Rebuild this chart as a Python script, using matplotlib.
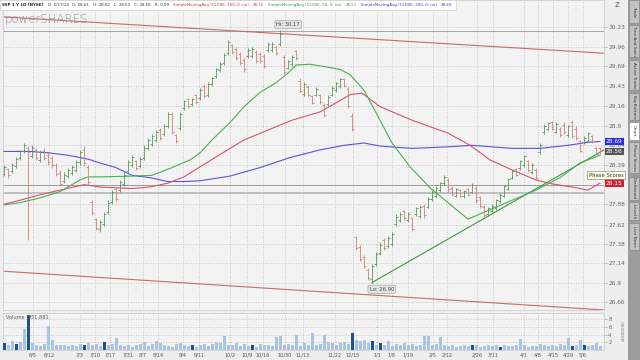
import numpy as np
import matplotlib.pyplot as plt
from matplotlib.patches import Rectangle
from matplotlib.ticker import NullLocator
from matplotlib.transforms import blended_transform_factory

W, H = 640, 360


def fx(px):
    return px / W


def fy(py):
    return 1 - py / H


# daily bars, one entry per session (index = bar number)
highs = [28.39, 28.35, 28.41, 28.49, 28.58, 28.67, 28.63, 28.64, 28.60, 28.58,
         28.60, 28.55, 28.50, 28.41, 28.32, 28.29, 28.35, 28.39, 28.45, 28.58,
         28.63, 28.39, 27.93, 27.71, 27.68, 27.78, 27.93, 28.06, 28.10, 28.19,
         28.29, 28.45, 28.52, 28.45, 28.49, 28.64, 28.73, 28.79, 28.84, 28.87,
         28.92, 29.08, 29.08, 28.79, 29.08, 29.24, 29.27, 29.27, 29.32, 29.40,
         29.44, 29.48, 29.55, 29.67, 29.75, 29.87, 30.05, 30.00, 29.96, 29.89,
         29.81, 29.94, 29.96, 29.92, 29.89, 29.86, 30.02, 30.02, 29.97, 30.17,
         29.85, 29.78, 29.85, 29.92, 29.54, 29.48, 29.44, 29.31, 29.41, 29.32,
         29.20, 29.31, 29.43, 29.48, 29.54, 29.54, 29.41, 29.06, 27.48, 27.37,
         27.24, 27.08, 27.13, 27.28, 27.40, 27.45, 27.48, 27.53, 27.75, 27.78,
         27.81, 27.78, 27.72, 27.85, 27.87, 27.88, 27.97, 28.06, 28.11, 28.17,
         28.25, 28.22, 28.11, 28.09, 28.08, 28.06, 28.09, 28.15, 28.11, 27.99,
         27.87, 27.85, 27.88, 27.95, 28.02, 28.13, 28.22, 28.32, 28.35, 28.45,
         28.52, 28.45, 28.41, 28.35, 28.67, 28.92, 28.95, 28.96, 28.95, 28.88,
         28.94, 28.91, 28.97, 28.89, 28.71, 28.76, 28.82, 28.78, 28.62, 28.62]
lows = [28.24, 28.22, 28.28, 28.35, 28.45, 28.54, 27.43, 28.47, 28.45, 28.42,
        28.45, 28.39, 28.35, 28.24, 28.11, 28.15, 28.22, 28.25, 28.29, 28.39,
        28.37, 28.13, 27.74, 27.55, 27.53, 27.60, 27.75, 27.88, 27.92, 28.04,
        28.11, 28.29, 28.36, 28.32, 28.35, 28.45, 28.58, 28.63, 28.68, 28.71,
        28.76, 28.87, 28.79, 28.67, 28.84, 29.11, 29.13, 29.16, 29.19, 29.24,
        29.27, 29.28, 29.43, 29.54, 29.62, 29.71, 29.84, 29.86, 29.78, 29.71,
        29.62, 29.81, 29.81, 29.74, 29.74, 29.67, 29.89, 29.89, 29.84, 29.97,
        29.59, 29.65, 29.70, 29.78, 29.33, 29.29, 29.28, 29.18, 29.29, 29.19,
        29.01, 29.16, 29.29, 29.35, 29.40, 29.41, 29.13, 28.83, 27.30, 27.16,
        27.08, 26.93, 26.90, 27.11, 27.24, 27.30, 27.33, 27.35, 27.60, 27.66,
        27.68, 27.66, 27.54, 27.73, 27.71, 27.71, 27.83, 27.92, 27.96, 28.04,
        28.13, 28.04, 27.99, 27.97, 27.97, 27.96, 27.99, 28.02, 27.90, 27.83,
        27.71, 27.73, 27.77, 27.81, 27.90, 27.97, 28.06, 28.20, 28.24, 28.32,
        28.36, 28.29, 28.27, 28.20, 28.53, 28.79, 28.83, 28.84, 28.80, 28.75,
        28.79, 28.75, 28.73, 28.71, 28.55, 28.66, 28.68, 28.67, 28.51, 28.53]
opens = [28.27, 28.33, 28.30, 28.37, 28.48, 28.56, 28.61, 28.50, 28.58, 28.45,
         28.57, 28.52, 28.47, 28.38, 28.28, 28.18, 28.24, 28.28, 28.32, 28.42,
         28.58, 28.36, 27.91, 27.69, 27.56, 27.63, 27.78, 27.91, 28.07, 28.06,
         28.14, 28.31, 28.39, 28.43, 28.37, 28.48, 28.60, 28.66, 28.71, 28.84,
         28.79, 28.90, 29.05, 28.77, 28.87, 29.13, 29.25, 29.18, 29.30, 29.26,
         29.42, 29.31, 29.45, 29.56, 29.64, 29.74, 29.87, 29.98, 29.93, 29.86,
         29.78, 29.83, 29.83, 29.89, 29.86, 29.83, 29.91, 29.92, 29.95, 30.00,
         29.82, 29.67, 29.72, 29.90, 29.50, 29.32, 29.41, 29.29, 29.31, 29.30,
         29.17, 29.18, 29.31, 29.37, 29.42, 29.52, 29.38, 29.03, 27.46, 27.34,
         27.22, 27.06, 26.94, 27.13, 27.27, 27.43, 27.35, 27.38, 27.63, 27.68,
         27.79, 27.68, 27.70, 27.75, 27.73, 27.86, 27.85, 27.94, 27.98, 28.06,
         28.15, 28.19, 28.09, 27.99, 28.06, 27.98, 28.07, 28.04, 28.09, 27.97,
         27.85, 27.75, 27.79, 27.83, 27.92, 27.99, 28.08, 28.22, 28.33, 28.34,
         28.38, 28.43, 28.29, 28.32, 28.55, 28.81, 28.85, 28.94, 28.82, 28.86,
         28.91, 28.77, 28.94, 28.86, 28.69, 28.68, 28.70, 28.76, 28.60, 28.61]
closes = [28.36, 28.25, 28.39, 28.46, 28.56, 28.65, 28.55, 28.61, 28.48, 28.55,
          28.48, 28.42, 28.38, 28.27, 28.14, 28.26, 28.32, 28.36, 28.42, 28.55,
          28.41, 28.16, 27.77, 27.58, 27.65, 27.75, 27.90, 28.03, 27.95, 28.16,
          28.26, 28.42, 28.49, 28.34, 28.46, 28.61, 28.71, 28.76, 28.81, 28.74,
          28.89, 29.05, 28.82, 28.69, 29.05, 29.22, 29.16, 29.25, 29.21, 29.37,
          29.29, 29.45, 29.53, 29.65, 29.73, 29.85, 30.02, 29.88, 29.81, 29.74,
          29.65, 29.92, 29.93, 29.77, 29.77, 29.70, 30.00, 30.00, 29.87, 30.14,
          29.62, 29.76, 29.82, 29.81, 29.36, 29.45, 29.31, 29.20, 29.39, 29.21,
          29.04, 29.28, 29.40, 29.46, 29.52, 29.43, 29.16, 28.86, 27.33, 27.19,
          27.11, 26.95, 27.10, 27.25, 27.37, 27.33, 27.45, 27.50, 27.72, 27.76,
          27.71, 27.75, 27.57, 27.83, 27.85, 27.74, 27.95, 28.04, 28.09, 28.15,
          28.23, 28.07, 28.01, 28.07, 27.99, 28.05, 28.00, 28.13, 27.93, 27.86,
          27.74, 27.83, 27.86, 27.93, 28.00, 28.11, 28.20, 28.30, 28.26, 28.43,
          28.50, 28.32, 28.39, 28.22, 28.65, 28.90, 28.93, 28.86, 28.92, 28.77,
          28.81, 28.89, 28.76, 28.73, 28.57, 28.74, 28.80, 28.69, 28.53, 28.56]
# volume in millions
volumes = [1.8, 1.2, 2.3, 1.6, 2.0, 5.4, 9.0, 1.8, 1.2, 1.0,
           1.5, 6.2, 2.5, 1.3, 1.2, 1.4, 1.1, 1.3, 1.0, 1.5,
           1.2, 1.8, 1.4, 1.6, 1.1, 2.1, 1.3, 1.5, 3.1, 1.2,
           1.0, 1.4, 0.9, 1.2, 1.6, 2.0, 1.1, 1.5, 2.4, 1.7,
           1.3, 1.0, 0.8, 1.5, 1.8, 1.2, 1.0, 1.4, 0.9, 1.3,
           1.6, 1.1, 1.5, 2.0, 1.7, 3.6, 1.4, 1.2, 1.8, 1.1,
           1.5, 1.0, 1.3, 0.9, 1.6, 1.2, 1.4, 1.1, 3.4, 3.5,
           1.3, 1.6, 1.2, 3.9, 1.0, 1.8, 1.3, 4.4, 1.2, 1.5,
           3.9, 2.0, 1.7, 1.3, 1.8, 2.1, 1.5, 4.4, 2.5, 2.3,
           2.6, 1.8, 2.4, 1.2, 1.9, 1.4, 2.4, 1.1, 1.6, 1.3,
           1.8, 1.2, 1.5, 1.0, 1.4, 3.6, 3.6, 1.2, 1.6, 3.4,
           1.3, 1.0, 1.2, 0.9, 1.1, 1.3, 1.0, 1.4, 1.2, 0.9,
           1.1, 1.3, 1.0, 1.2, 0.9, 1.4, 1.1, 1.0, 1.3, 2.8,
           1.2, 0.9, 1.1, 1.0, 1.5, 1.2, 1.0, 1.3, 1.1, 1.6,
           1.2, 3.1, 1.0, 1.3, 2.5, 1.4, 1.1, 1.2, 1.8, 1.0]
dark_volume_days = [0, 3, 6, 20, 25, 47, 62, 87, 92, 94, 117, 124, 142, 145]

# moving averages (bar index, value)
sma50_days = [0, 4, 9, 14, 19, 21, 24, 32, 37, 42, 46.5, 49, 52, 56.5, 60, 64, 68, 71,
              73, 76.5, 81, 84, 86.5, 90, 94, 97, 101.5, 106.5, 111, 116, 121.5, 127,
              133, 139, 144, 149]
sma50_vals = [27.87, 27.90, 27.96, 28.04, 28.19, 28.23, 28.23, 28.24, 28.25, 28.35, 28.45,
              28.54, 28.71, 28.94, 29.15, 29.34, 29.47, 29.60, 29.71, 29.72, 29.68, 29.65,
              29.58, 29.37, 28.97, 28.67, 28.36, 28.09, 27.90, 27.69, 27.81, 27.93, 28.06,
              28.22, 28.41, 28.51]
sma100_days = [0, 4, 9, 14, 20, 24, 28, 32, 36.5, 41, 45, 49, 54, 60, 66, 72, 79, 83, 86.5,
               89.5, 94, 102, 111, 116.5, 121.5, 127, 133, 137, 142, 146, 149]
sma100_vals = [27.88, 27.93, 28.00, 28.06, 28.13, 28.10, 28.09, 28.08, 28.10, 28.15, 28.23,
               28.36, 28.52, 28.71, 28.84, 28.97, 29.08, 29.20, 29.31, 29.33, 29.15, 28.97,
               28.80, 28.64, 28.45, 28.32, 28.19, 28.14, 28.10, 28.06, 28.15]
sma200_days = [0, 6.5, 11.5, 16, 21, 24, 28, 32, 36.5, 41, 45, 49, 56.5, 64, 71.5, 79, 85,
               90, 94, 102, 111, 117, 127, 134, 141, 146, 149]
sma200_vals = [28.56, 28.56, 28.54, 28.51, 28.46, 28.41, 28.35, 28.25, 28.22, 28.17, 28.17,
               28.18, 28.24, 28.35, 28.48, 28.58, 28.64, 28.67, 28.63, 28.60, 28.62, 28.64,
               28.60, 28.60, 28.64, 28.68, 28.69]

# drawn trend lines (bar index, price)
channel_top = ([-0.25, 150], [30.37, 29.87])
channel_bottom = ([-0.25, 150], [27.04, 26.565])
support_line = ([92, 150], [26.90, 28.58])
level_lines = [30.17, 28.13, 28.02]

price_ticks = [30.23, 29.96, 29.69, 29.43, 29.16, 28.9, 28.64, 28.39, 28.13, 27.88,
               27.62, 27.38, 27.14, 26.9, 26.66]
# the 28.13 label sits under the red SMA(100) box, so it is left blank
price_tick_labels = ['30.23', '29.96', '29.69', '29.43', '29.16', '28.9', '28.64', '28.39',
                     '', '27.88', '27.62', '27.38', '27.14', '26.9', '26.66']
date_days = [7.25, 11.25, 19, 22.75, 26.5, 31, 34.75, 38.5, 44.75, 48.75, 56.5, 60.75,
             64.75, 70.25, 74.75, 82.75, 87.25, 93.25, 97, 101, 107.25, 110.75, 118.25,
             122.25, 130, 133.5, 137.25, 141, 144.75]
date_labels = ['6/5', '6/12', '7/3', '7/10', '7/17', '7/31', '8/7', '8/14', '9/4', '9/11',
               '10/2', '10/9', '10/16', '10/30', '11/13', '11/22', '12/15', '1/1', '1/8',
               '1/19', '2/5', '2/12', '2/26', '3/11', '4/1', '4/8', '4/15', '4/29', '5/6']
vol_ticks = [2, 4, 6, 8]

GRID = dict(linestyle=(0, (1, 2)), color='#b8b8b8', lw=0.6)

fig = plt.figure(figsize=(6.4, 3.6), dpi=100, facecolor='#eeeeee')
ax = fig.add_axes([fx(3), fy(310), fx(604) - fx(3), fy(0) - fy(310)])
axv = fig.add_axes([fx(3), fy(350), fx(604) - fx(3), fy(313) - fy(350)], sharex=ax)

for a in (ax, axv):
    a.set_facecolor('#f3f3f3')
    for s in a.spines.values():
        s.set_color('#cfcfcf')
        s.set_linewidth(0.6)

days = np.arange(len(closes))
up = np.array(closes) >= np.array(opens)
bar_colors = np.where(up, '#5a955a', '#d87c7c')

ax.set_yscale('log')
ax.set_ylim(26.565, 30.605)
ax.set_xlim(-0.25, 150)

for lvl, lw, c in zip(level_lines, [0.6, 0.7, 1.2], ['#9a9a9a', '#9a9a9a', '#b5b5b5']):
    ax.axhline(lvl, color=c, lw=lw, zorder=1)

ax.plot(*channel_top, color='#c86a6a', lw=0.8, zorder=2)
ax.plot(*channel_bottom, color='#c86a6a', lw=0.8, zorder=2)
ax.plot(*support_line, color='#3f9a3f', lw=0.8, zorder=2)

ax.plot(sma200_days, sma200_vals, color='#5555dd', lw=0.8, zorder=3)
ax.plot(sma100_days, sma100_vals, color='#d9536a', lw=0.8, zorder=3)
ax.plot(sma50_days, sma50_vals, color='#4caf50', lw=0.8, zorder=3)

ax.vlines(days, lows, highs, colors=bar_colors, lw=0.6, zorder=4)
ax.hlines(opens, days - 0.45, days, colors=bar_colors, lw=0.6, zorder=4)
ax.hlines(closes, days, days + 0.45, colors=bar_colors, lw=0.6, zorder=4)

ax.set_yticks(price_ticks)
ax.set_yticklabels(price_tick_labels)
ax.yaxis.set_minor_locator(NullLocator())
ax.yaxis.tick_right()
ax.tick_params(axis='y', labelsize=4.2, labelcolor='#666666', length=2, width=0.5,
               color='#aaaaaa', pad=1)
ax.tick_params(axis='x', labelbottom=False, length=0)
ax.set_xticks(date_days)
ax.grid(True, **GRID)
ax.set_axisbelow(True)

# last-value boxes on the price scale
tr = blended_transform_factory(ax.transAxes, ax.transData)
for val, txt, fc in [(sma200_vals[-1], '28.69', '#2b2be8'),
                     (closes[-1], '28.56', '#555555'),
                     (sma100_vals[-1], '28.15', '#cc2233')]:
    ax.text(1.003, val, txt, transform=tr, fontsize=4.2, color='white', va='center',
            ha='left', bbox=dict(boxstyle='square,pad=0.2', fc=fc, ec='none'), zorder=6,
            clip_on=False)

hi_i = int(np.argmax(highs))
lo_i = int(np.argmin(lows))
ax.annotate('Hi: %.2f' % highs[hi_i], xy=(hi_i, highs[hi_i]), xytext=(6, 3),
            textcoords='offset points', ha='center', va='bottom', fontsize=3.8,
            color='#444444',
            bbox=dict(boxstyle='round,pad=0.3', fc='#e4e4e4', ec='#999999', lw=0.4),
            arrowprops=dict(arrowstyle='-', color='#888888', lw=0.5), zorder=7)
ax.annotate('Lo: %.2f' % lows[lo_i], xy=(lo_i, lows[lo_i]), xytext=(7, -3),
            textcoords='offset points', ha='center', va='top', fontsize=3.8,
            color='#444444',
            bbox=dict(boxstyle='round,pad=0.3', fc='#e4e4e4', ec='#999999', lw=0.4),
            arrowprops=dict(arrowstyle='-', color='#888888', lw=0.5), zorder=7)

# volume panel
vol_colors = ['#1f4f94' if d in dark_volume_days else '#a8c3e3' for d in days]
axv.bar(days, volumes, width=0.75, color=vol_colors, zorder=3)
axv.set_ylim(0, 9.55)
axv.set_yticks(vol_ticks)
axv.yaxis.tick_right()
axv.tick_params(axis='y', labelsize=3.8, labelcolor='#666666', length=2, width=0.5,
                color='#aaaaaa', pad=1)
axv.set_xticks(date_days)
axv.set_xticklabels(date_labels)
axv.tick_params(axis='x', labelsize=3.6, labelcolor='#555555', length=0, pad=1.5)
axv.grid(True, **GRID)
axv.set_axisbelow(True)
fig.text(fx(6), fy(317), 'Volume  951,881', fontsize=3.6, color='#555555', va='center')
fig.text(fx(624), fy(331), 'x1000000', fontsize=3, color='#777777', rotation=90,
         va='center', ha='center')

# header strip: texts laid out one after another
header = [('SSP 1 Y 1D [NYSE]', '#222222', 'bold'),
          ('D: 5/17/24', '#333333', 'normal'),
          ('O: 28.61', '#333333', 'normal'),
          ('H: 28.62', '#333333', 'normal'),
          ('L: 28.53', '#333333', 'normal'),
          ('C: 28.56', '#333333', 'normal'),
          ('R: 0.09', '#333333', 'normal'),
          ('SimpleMovingAvg (CLOSE, 100, 0, no)', '#cc3344', 'normal'),
          ('28.15', '#cc3344', 'normal'),
          ('SimpleMovingAvg (CLOSE, 50, 0, no)', '#3a9a3a', 'normal'),
          ('28.51', '#3a9a3a', 'normal'),
          ('SimpleMovingAvg (CLOSE, 200, 0, no)', '#3a3acc', 'normal'),
          ('28.69', '#3a3acc', 'normal')]
renderer = fig.canvas.get_renderer()
px = 2
for txt, c, wt in header:
    t = fig.text(fx(px), fy(5), txt, fontsize=2.9, color=c, fontweight=wt, va='center',
                 zorder=6)
    px += t.get_window_extent(renderer).width + 4
fig.patches.append(Rectangle((0, fy(10)), fx(px), fy(0) - fy(10), transform=fig.transFigure,
                             fc='white', ec='#d0d0d0', lw=0.5, zorder=5))

fig.text(fx(5), fy(19), 'powerSHARES', fontsize=8.5, color='#8c8c8c', va='center',
         fontweight='light', zorder=6)
fig.text(fx(617), fy(5), 'Z', fontsize=5, color='#555555', va='center', ha='center')

# side tab strip
fig.patches.append(Rectangle((fx(628), 0), fx(12), 1, transform=fig.transFigure,
                             fc='#9c9c9c', ec='none', zorder=5))
tabs = [('Trade', 0, 23), ('Time And Sales', 25, 57), ('Active Trader', 60, 90),
        ('Big Buttons', 93, 120), ('Chart', 122, 140), ('Phase Scores', 142, 173),
        ('Dashboard', 177, 200), ('Level II', 202, 220), ('Live News', 223, 250)]
for name, y0, y1 in tabs:
    fc = 'white' if name == 'Chart' else '#c2c2c2'
    fig.patches.append(Rectangle((fx(629), fy(y1)), fx(10), fy(y0) - fy(y1),
                                 transform=fig.transFigure, fc=fc, ec='#808080', lw=0.4,
                                 zorder=6))
    fig.text(fx(634), fy((y0 + y1) / 2), name, fontsize=3, color='#333333', rotation=270,
             va='center', ha='center', zorder=7)

# hover tooltip of the side tab
fig.text(fx(589), fy(175), 'Phase Scores', fontsize=3.8, color='#333333', va='center',
         zorder=8, bbox=dict(boxstyle='square,pad=0.3', fc='#ffffe1', ec='#777777', lw=0.4))

fig.savefig('out.png', dpi=100, facecolor=fig.get_facecolor())
